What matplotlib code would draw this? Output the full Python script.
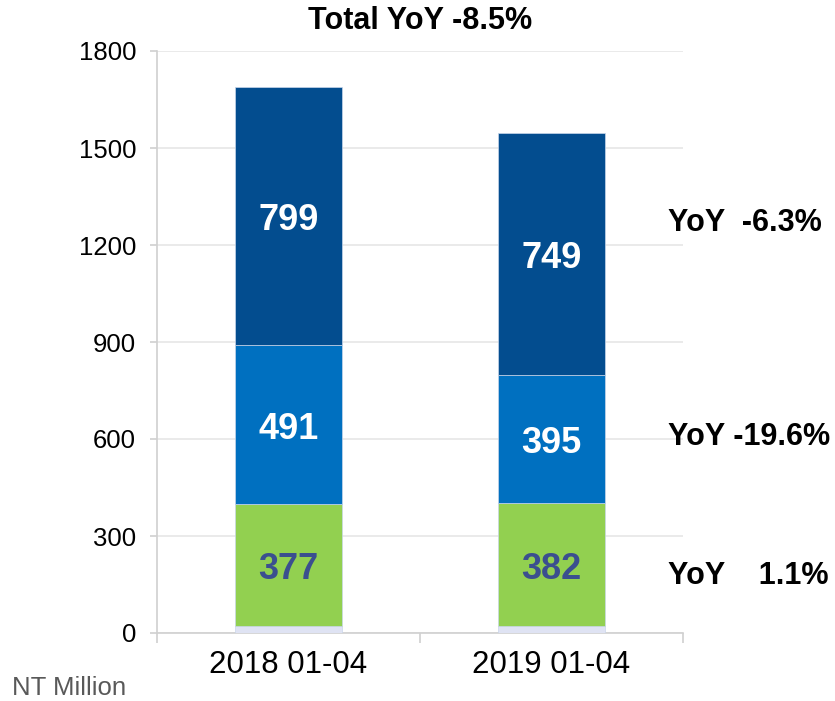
import numpy as np
import matplotlib.pyplot as plt
from matplotlib.transforms import blended_transform_factory

plt.rcParams['font.family'] = ['Liberation Sans', 'DejaVu Sans']

periods = ['2018 01-04', '2019 01-04']
base = [22, 21]
green = [377, 382]
blue = [491, 395]
navy = [799, 749]
yoy_labels = ['YoY    1.1%', 'YoY -19.6%', 'YoY  -6.3%']
total_label = 'Total YoY -8.5%'

fig = plt.figure(figsize=(8.35, 7.01), dpi=100)
ax = fig.add_axes([157/835, 68/701, 526/835, 582/701])

x = np.arange(len(periods))
w = 0.405
edge = dict(edgecolor='#c9d6ea', linewidth=0.5)

b0 = np.array(base)
b1 = b0 + np.array(green)
b2 = b1 + np.array(blue)

ax.bar(x, base, w, color='#dfe3f3', **edge, zorder=3)
ax.bar(x, green, w, bottom=b0, color='#92d050', **edge, zorder=3)
ax.bar(x, blue, w, bottom=b1, color='#0070c0', **edge, zorder=3)
ax.bar(x, navy, w, bottom=b2, color='#034d8f', **edge, zorder=3)

dy = -15  # nudge the centred numbers down a touch
for i in range(len(periods)):
    ax.text(x[i], b0[i] + green[i] / 2 + dy, str(green[i]), ha='center', va='center',
            fontsize=26, fontweight='bold', color='#3b4f8f', zorder=4)
    ax.text(x[i], b1[i] + blue[i] / 2 + dy, str(blue[i]), ha='center', va='center',
            fontsize=26, fontweight='bold', color='white', zorder=4)
    ax.text(x[i], b2[i] + navy[i] / 2 + dy, str(navy[i]), ha='center', va='center',
            fontsize=26, fontweight='bold', color='white', zorder=4)

# YoY notes on the right
trans = blended_transform_factory(ax.transAxes, ax.transData)
mids = [b0[1] + green[1] / 2 - 20, b1[1] + blue[1] / 2 + 20, b2[0] + navy[0] / 2 - 5]
for lab, ym in zip(yoy_labels, mids):
    ax.text(0.971, ym + dy, lab, transform=trans, ha='left', va='center',
            fontsize=22, fontweight='bold', color='black', clip_on=False)

fig.text(420/835, 1 - 21/701, total_label, ha='center', va='center',
         fontsize=22, fontweight='bold', color='black')
fig.text(12/835, 1 - 688/701, 'NT Million', ha='left', va='center',
         fontsize=18.5, color='#595959')

ax.set_ylim(0, 1800)
ax.set_xlim(-0.5, 1.5)
ax.set_yticks(np.arange(0, 1801, 300))
ax.set_xticks(x)
ax.set_xticklabels(periods)
ax.set_xticks([-0.5, 0.5, 1.5], minor=True)
ax.tick_params(axis='x', which='major', length=0, labelsize=22.5, pad=12)
ax.tick_params(axis='x', which='minor', length=7, color='#d0d0d0', width=1.2)
ax.tick_params(axis='y', length=5, color='#d0d0d0', width=1.2, labelsize=18.5, pad=10)

ax.grid(axis='y', color='#e6e6e6', linewidth=1.2, zorder=0)
ax.set_axisbelow(True)
for s in ['top', 'right']:
    ax.spines[s].set_visible(False)
for s in ['left', 'bottom']:
    ax.spines[s].set_color('#d0d0d0')
    ax.spines[s].set_linewidth(1.2)

fig.savefig('out.png', dpi=100)
